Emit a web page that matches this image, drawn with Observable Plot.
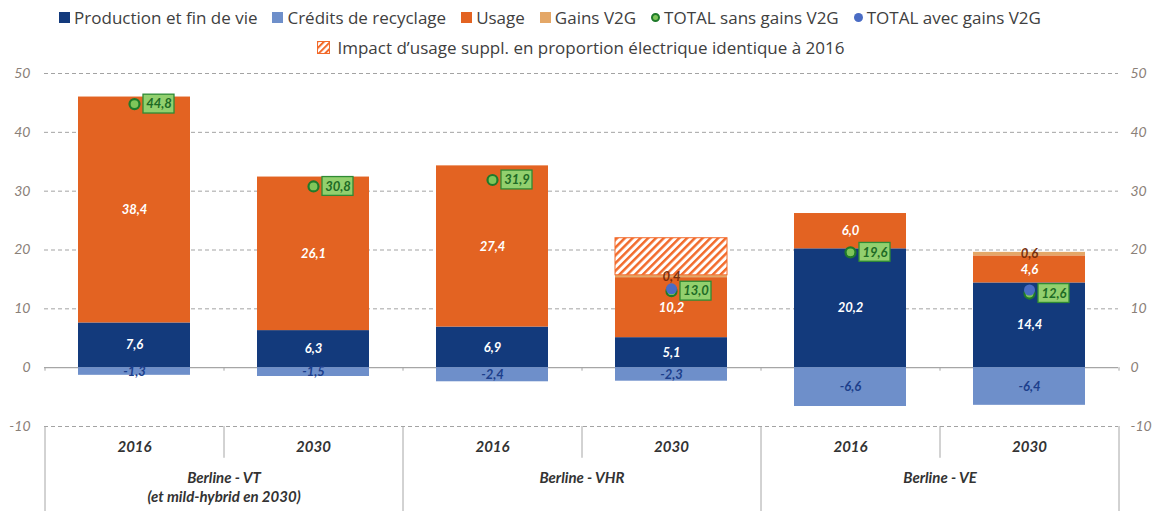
<!DOCTYPE html>
<html><head><meta charset="utf-8">
<script src="https://cdn.jsdelivr.net/npm/d3@7"></script>
<script src="https://cdn.jsdelivr.net/npm/@observablehq/plot@0.6"></script>
<style>
body{margin:0;background:#fff;font-family:"Open Sans",sans-serif;}
#legend{height:60px;width:1159px;color:#404040;font-size:17px;}
.row{display:flex;justify-content:center;align-items:center;gap:15px;height:30px;}
.row1{padding-right:59px;padding-top:2px;}
.row2{padding-left:3px;}
.item{display:flex;align-items:center;gap:4px;white-space:nowrap;}
.sq{width:11px;height:11px;display:inline-block;}
.dot{width:9px;height:9px;border-radius:50%;display:inline-block;box-sizing:border-box;}
</style></head><body>
<div id="legend"></div><div id="chart"></div>
<script>
// ---- data ----
const categories = ["VT 2016","VT 2030","VHR 2016","VHR 2030","VE 2016","VE 2030"];
const years = ["2016","2030","2016","2030","2016","2030"];
const groups = ["Berline - VT","Berline - VHR","Berline - VE"];
const groupSub = ["(et mild-hybrid en 2030)","",""];
const production = [7.6, 6.3, 6.9, 5.1, 20.2, 14.4];
const recyclage = [-1.3, -1.5, -2.4, -2.3, -6.6, -6.4];
const usage = [38.4, 26.1, 27.4, 10.2, 6.0, 4.6];
const gainsV2G = [0, 0, 0, 0.4, 0, 0.6];
const impactSuppl = [0, 0, 0, 6.3, 0, 0];
const totalSans = [44.8, 30.8, 31.9, 13.0, 19.6, 12.6];
const totalAvec = [null, null, null, 13.4, null, 13.2];
const yTicks = [-10, 0, 10, 20, 30, 40, 50];
const legendLabels = ["Production et fin de vie","Crédits de recyclage","Usage","Gains V2G","TOTAL sans gains V2G","TOTAL avec gains V2G"];
const hatchLabel = "Impact d’usage suppl. en proportion électrique identique à 2016";

const C = {prod:"#133a7c", recyc:"#6e8fca", usage:"#e36322", v2g:"#e4a767", impact:"url(#hatch)"};
const labelFill = {prod:"white", usage:"white", recyc:"#1d3f8c", v2g:"#7a300c", impact:"none"};
const fmt = v => d3.format(".1f")(v).replace(".", ",").replace("\u2212", "-");

// ---- legend ----
const lg = document.getElementById("legend");
const sw = [
  `<span class="sq" style="background:${C.prod}"></span>`,
  `<span class="sq" style="background:${C.recyc}"></span>`,
  `<span class="sq" style="background:${C.usage}"></span>`,
  `<span class="sq" style="background:${C.v2g}"></span>`,
  `<span class="dot" style="background:#7fc65a;border:2px solid #1f7a2a"></span>`,
  `<span class="dot" style="background:#4a6cc4"></span>`
];
lg.innerHTML = `<div class="row row1">${legendLabels.map((t,i)=>`<span class="item">${sw[i]}<span>${t}</span></span>`).join("")}</div>
<div class="row row2"><span class="item"><svg width="13" height="13"><defs><pattern id="hatchL" patternUnits="userSpaceOnUse" width="4.5" height="4.5" patternTransform="rotate(45)"><rect width="4.5" height="4.5" fill="white"/><rect width="2" height="4.5" fill="#f26a2a"/></pattern></defs><rect x="0.5" y="0.5" width="12" height="12" fill="url(#hatchL)" stroke="#f26a2a"/></svg><span style="margin-left:3px">${hatchLabel}</span></span></div>`;

// ---- rows ----
const rows = [];
categories.forEach((c,i)=>{
  const parts = [["prod",production[i]],["usage",usage[i]],["v2g",gainsV2G[i]],["impact",impactSuppl[i]],["recyc",recyclage[i]]];
  for (const [s,v] of parts) if (v !== 0) rows.push({cat:c, series:s, value:v});
});
const totals = categories.map((c,i)=>({cat:c, sans:totalSans[i], avec:totalAvec[i]}));
const totAvec = totals.filter(d=>d.avec!=null);
const step = (1159-44-41)/6;
const grpIdx = [0,2,4];

const plot = Plot.plot({
  width:1159, height:451,
  marginLeft:44, marginRight:41, marginTop:13, marginBottom:85,
  style:{fontFamily:"Lato, 'Open Sans', sans-serif", fontSize:"13px", background:"white"},
  x:{domain:categories, paddingInner:0.375, paddingOuter:0.1875, axis:null},
  y:{domain:[-10,50], axis:null},
  color:{type:"identity"},
  marks:[
    Plot.ruleY(yTicks.filter(t=>t!==0), {stroke:"#a3a3a3", strokeDasharray:"4,3", strokeWidth:1}),
    Plot.ruleY([0], {stroke:"#a6a6a6", strokeWidth:1.3}),
    Plot.ruleX(categories, {x:d=>d, dx:-step/2, y1:0, y2:-0.6, stroke:"#a6a6a6"}),
    Plot.ruleX(categories.slice(-1), {x:d=>d, dx:step/2, y1:0, y2:-0.6, stroke:"#a6a6a6"}),
    // table lines
    Plot.ruleX(categories.filter((c,i)=>i%2===1), {x:d=>d, dx:-step/2, y1:-10, y2:-15.4, stroke:"#a6a6a6"}),
    Plot.ruleX(categories.filter((c,i)=>i%2===0), {x:d=>d, dx:-step/2, y1:-10, y2:-24.5, stroke:"#a6a6a6"}),
    Plot.ruleX(categories.slice(-1), {x:d=>d, dx:step/2, y1:-10, y2:-24.5, stroke:"#a6a6a6"}),
    Plot.axisY({anchor:"left", ticks:yTicks, tickSize:0, tickPadding:14, tickFormat:d=>String(d), fill:"#8a8078", fontSize:14, fontStyle:"italic"}),
    Plot.axisY({anchor:"right", ticks:yTicks, tickSize:0, tickPadding:12, tickFormat:d=>String(d), fill:"#8a8078", fontSize:14, fontStyle:"italic"}),
    // bars
    Plot.barY(rows, Plot.stackY({x:"cat", y:"value", fill:d=>C[d.series], stroke:d=>d.series==="impact"?"#f26a2a":"none", strokeWidth:1})),
    Plot.text(rows, Plot.stackY({x:"cat", y:"value", text:d=>d.series==="impact"?"":fmt(d.value), fill:d=>labelFill[d.series], fontWeight:"bold", fontStyle:"italic", fontSize:13})),
    // totals
    Plot.dot(totals, {x:"cat", y:"sans", r:5, fill:"#7fc65a", stroke:"#1f7a2a", strokeWidth:2.2}),
    Plot.dot(totAvec, {x:"cat", y:"avec", r:5.5, fill:"#4a6cc4"}),
    Plot.barY(totals, {x:"cat", y1:d=>d.sans-1.6, y2:d=>d.sans+1.6, insetLeft:65, insetRight:16, fill:"#92d06e", stroke:"#2e8b34", strokeWidth:1.3}),
    Plot.text(totals, {x:"cat", y:"sans", text:d=>fmt(d.sans), dx:24.5, fill:"#1e6b25", fontWeight:"bold", fontStyle:"italic", fontSize:13}),
    // bottom table text
    Plot.text(categories, {x:d=>d, y:()=>-10, text:(d,i)=>years[i], dy:21, fill:"#333", fontWeight:"bold", fontStyle:"italic", fontSize:15}),
    Plot.text(grpIdx, {x:i=>categories[i], y:()=>-10, text:i=>groups[i/2], dx:step/2, dy:52, fill:"#333", fontWeight:"bold", fontStyle:"italic", fontSize:15}),
    Plot.text(grpIdx, {x:i=>categories[i], y:()=>-10, text:i=>groupSub[i/2], dx:step/2, dy:71, fill:"#333", fontWeight:"bold", fontStyle:"italic", fontSize:15})
  ]
});
const ns = "http://www.w3.org/2000/svg";
const defs = document.createElementNS(ns, "defs");
defs.innerHTML = `<pattern id="hatch" patternUnits="userSpaceOnUse" width="5.5" height="5.5" patternTransform="rotate(45)"><rect width="5.5" height="5.5" fill="white"/><rect width="2.5" height="5.5" fill="#f26a2a"/></pattern>`;
plot.insertBefore(defs, plot.firstChild);
document.getElementById("chart").appendChild(plot);
</script>
</body></html>
